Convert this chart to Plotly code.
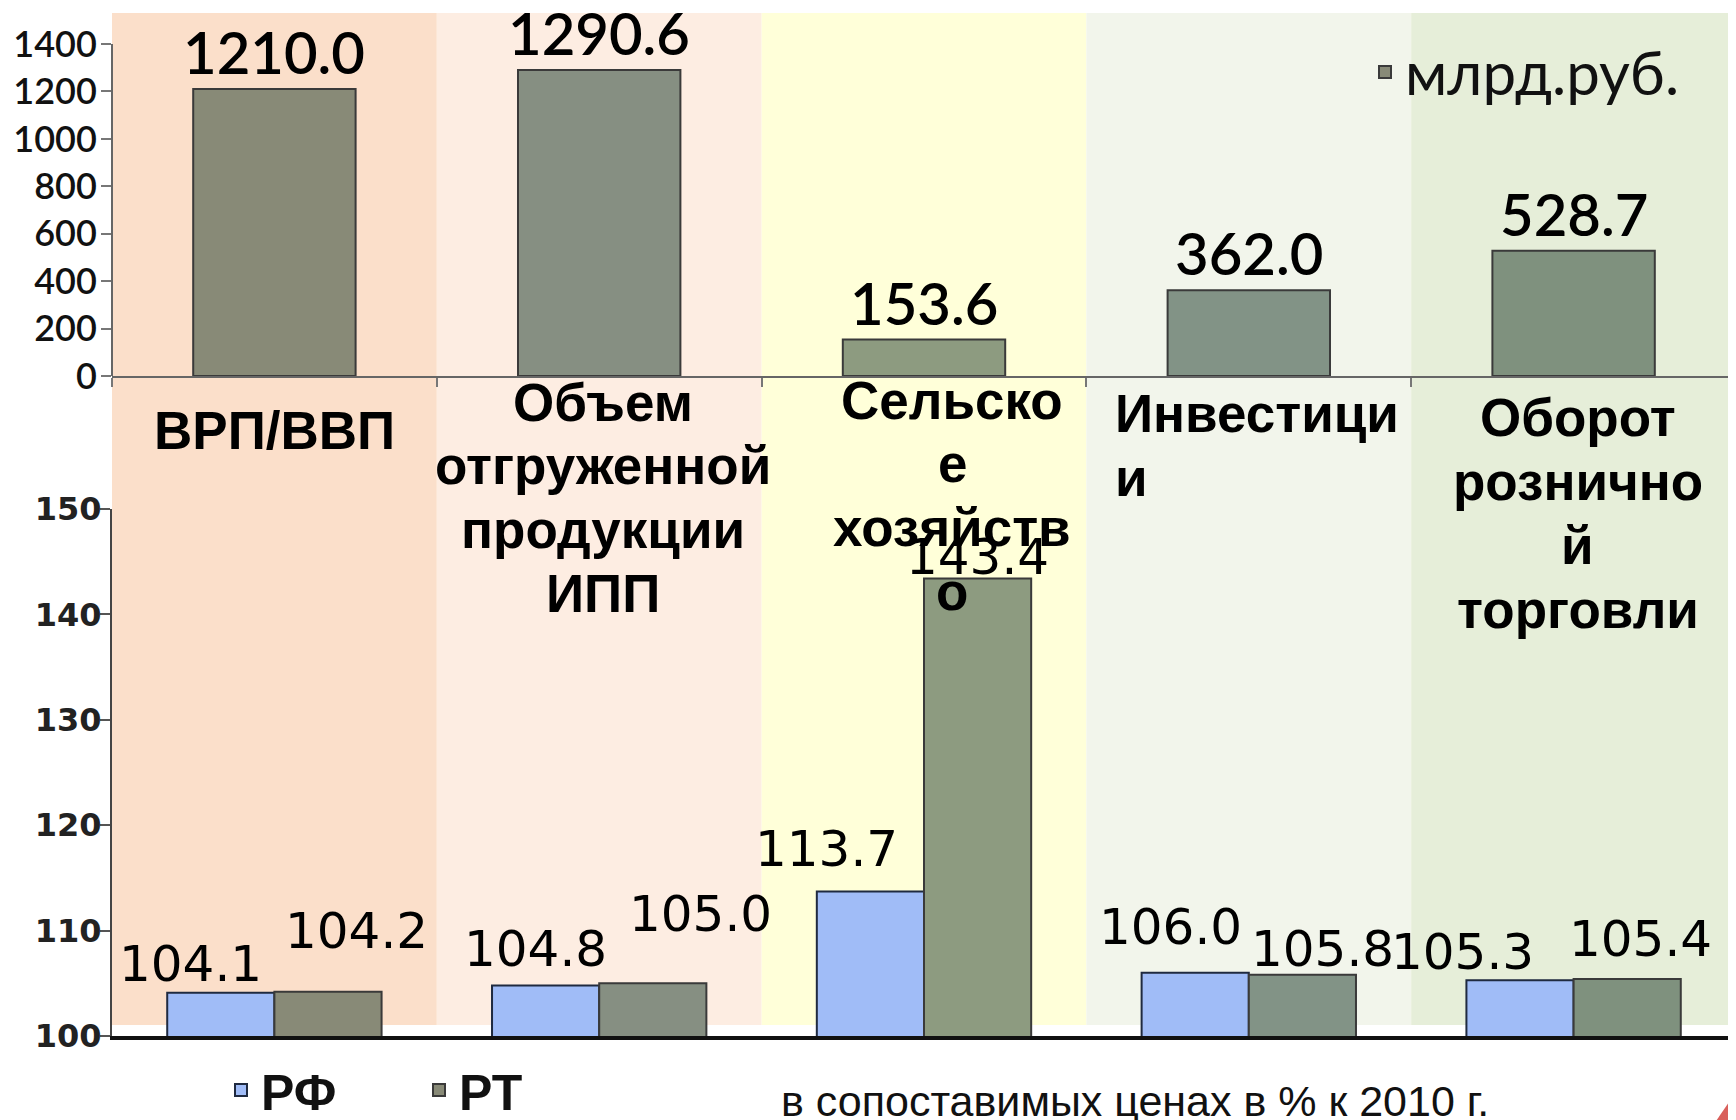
import plotly.graph_objects as go

# ---------------- data ----------------
categories = ["ВРП/ВВП", "Объем отгруженной продукции ИПП", "Сельское хозяйство",
              "Инвестиции", "Оборот розничной торговли"]
category_lines = [["ВРП/ВВП"],
                  ["Объем", "отгруженной", "продукции", "ИПП"],
                  ["Сельско", "е", "хозяйств", "о"],
                  ["Инвестици", "и"],
                  ["Оборот", "рознично", "й", "торговли"]]
bln_rub = [1210.0, 1290.6, 153.6, 362.0, 528.7]
rf_pct = [104.1, 104.8, 113.7, 106.0, 105.3]
rt_pct = [104.2, 105.0, 143.4, 105.8, 105.4]
top_ticks = [0, 200, 400, 600, 800, 1000, 1200, 1400]
bottom_ticks = [100, 110, 120, 130, 140, 150]
legend_top_name = "млрд.руб."
rf_name = "РФ"
rt_name = "РТ"
note_text = "в сопоставимых ценах в % к 2010 г."

# ---------------- styles ----------------
OFF = 8                      # page body margin compensation
W, H = 1736 - OFF, 1120 - OFF
ML = 112 - OFF
PW = W - ML
band_colors = ["#fbdfca", "#fdede2", "#ffffd9", "#f2f5eb", "#e6eed9"]
top_bar_colors = ["#888a77", "#868f82", "#8d9b80", "#829386", "#7f917e"]
rt_colors = ["#888a77", "#868f82", "#8d9b80", "#829386", "#7f917e"]
rf_color = "#a0bcf7"
edge = "#3a3a3a"

# label offsets (px): (xshift, yshift) for bottom value labels
rf_off = [(-30, -2), (-10, 5), (-44, 12), (-25, 15), (-58, -3)]
rt_off = [(29, 30), (48, 38), (0, -9), (20, -5), (13, 9)]
# category title placement: (xshift px, top px, align)
cat_place = [(0, 412, "center"), (4, 384, "center"), (28, 382, "center"),
             (None, 396, "left"), (4, 400, "center")]
LINE_PITCH = 63.7


def py(p):
    return 1 - (p - OFF) / H


def px(p):
    return (p - OFF - ML) / PW


fig = go.Figure()

fig.add_trace(go.Bar(
    x=categories, y=bln_rub, xaxis="x", yaxis="y", width=0.5,
    marker=dict(color=top_bar_colors, line=dict(color=edge, width=2)),
    name=legend_top_name, legend="legend", hoverinfo="skip"))

fig.add_trace(go.Bar(
    x=categories, y=rf_pct, xaxis="x2", yaxis="y2",
    marker=dict(color=rf_color, line=dict(color="#1f2a40", width=2)),
    name=rf_name, legend="legend2", hoverinfo="skip"))
fig.add_trace(go.Bar(
    x=categories, y=rt_pct, xaxis="x2", yaxis="y2",
    marker=dict(color=rt_colors, line=dict(color=edge, width=2)),
    name=rt_name, legend="legend2", hoverinfo="skip"))

shapes = []
for i, c in enumerate(band_colors):
    shapes.append(dict(type="rect", xref="x", yref="paper",
                       x0=i - 0.5, x1=i + 0.5, y0=py(1025), y1=py(13),
                       fillcolor=c, line=dict(width=0), layer="below"))
# top y axis line only up to the last tick
shapes.append(dict(type="line", xref="paper", yref="y", x0=0, x1=0,
                   y0=top_ticks[0], y1=top_ticks[-1],
                   line=dict(color="#666", width=2)))
# red slide corner
shapes.append(dict(type="path", xref="paper", yref="paper",
                   path=f"M {px(1714)},{py(1124)} L {px(1740)},{py(1086)} L {px(1740)},{py(1124)} Z",
                   fillcolor="#d9605c", line=dict(width=0)))

annotations = []
for i, v in enumerate(bln_rub):
    annotations.append(dict(x=i, y=v, xref="x", yref="y", text=f"{v:.1f}",
                            showarrow=False, yanchor="bottom", yshift=1,
                            font=dict(family="Lato, Open Sans", size=58, color="#000",
                                      weight=600)))
half = (1 - 0.34) / 4
for i, (a, b) in enumerate(zip(rf_pct, rt_pct)):
    annotations.append(dict(x=i - half, y=a, xref="x2", yref="y2", text=f"{a:.1f}",
                            showarrow=False, yanchor="bottom",
                            xshift=rf_off[i][0], yshift=rf_off[i][1],
                            font=dict(family="DejaVu Sans", size=50, color="#000")))
    annotations.append(dict(x=i + half, y=b, xref="x2", yref="y2", text=f"{b:.1f}",
                            showarrow=False, yanchor="bottom",
                            xshift=rt_off[i][0], yshift=rt_off[i][1],
                            font=dict(family="DejaVu Sans", size=50, color="#000")))

for i, lines in enumerate(category_lines):
    dx, top, align = cat_place[i]
    for k, line in enumerate(lines):
        cap_mid = top + k * LINE_PITCH + 18
        if align == "left":
            ann = dict(x=i - 0.5, xanchor="left", xshift=27)
        else:
            ann = dict(x=i, xanchor="center", xshift=dx)
        ann.update(xref="x2", yref="paper", y=py(cap_mid), yanchor="middle",
                   text=line, showarrow=False,
                   font=dict(family="Liberation Sans", size=53, color="#000", weight="bold"))
        annotations.append(ann)

annotations.append(dict(xref="paper", yref="paper", x=px(779), y=py(1101),
                        xanchor="left", yanchor="middle", text=note_text, showarrow=False,
                        font=dict(family="Liberation Sans", size=43, color="#111")))

fig.update_layout(
    width=W, height=H,
    margin=dict(l=ML, r=0, t=0, b=0, autoexpand=False),
    paper_bgcolor="white", plot_bgcolor="rgba(0,0,0,0)",
    barmode="group", bargap=0.34, bargroupgap=0,
    shapes=shapes, annotations=annotations,
    xaxis=dict(domain=[0, 1], anchor="y", type="category", showticklabels=False,
               showline=True, linecolor="#666", linewidth=2, ticks="outside",
               tickson="boundaries", ticklen=9, tickcolor="#777", tickwidth=2,
               showgrid=False, zeroline=False, range=[-0.5, 4.5]),
    yaxis=dict(domain=[py(376), py(13)], anchor="x", range=[0, 1531],
               tickvals=top_ticks, ticks="outside", ticklen=10, tickcolor="#777",
               tickwidth=2, showline=False, showgrid=False, zeroline=False,
               ticklabelstandoff=-3,
               tickfont=dict(family="Lato, Open Sans", size=36, color="#111", weight=600)),
    xaxis2=dict(domain=[0, 1], anchor="y2", type="category", showticklabels=False,
                showline=True, linecolor="#111", linewidth=4, ticks="",
                showgrid=False, zeroline=False, range=[-0.5, 4.5]),
    yaxis2=dict(domain=[py(1036), py(509)], anchor="x2", range=[100, 150],
                tickvals=bottom_ticks, ticks="outside", ticklen=10, tickcolor="#555",
                tickwidth=2, showline=True, linecolor="#444", linewidth=2,
                showgrid=False, zeroline=False, ticklabelstandoff=-8,
                tickfont=dict(family="DejaVu Sans", size=32, color="#222", weight="bold")),
    legend=dict(x=px(1365), y=py(72), xanchor="left", yanchor="middle",
                bgcolor="rgba(0,0,0,0)", itemwidth=30,
                font=dict(family="Lato, Open Sans", size=60, color="#111")),
    legend2=dict(orientation="h", x=px(221), y=py(1090), xanchor="left",
                 yanchor="middle", bgcolor="rgba(0,0,0,0)", itemwidth=30,
                 entrywidth=153, entrywidthmode="pixels",
                 font=dict(family="Liberation Sans", size=50, color="#111", weight="bold")),
    showlegend=True,
)

fig.write_html("out.html")
